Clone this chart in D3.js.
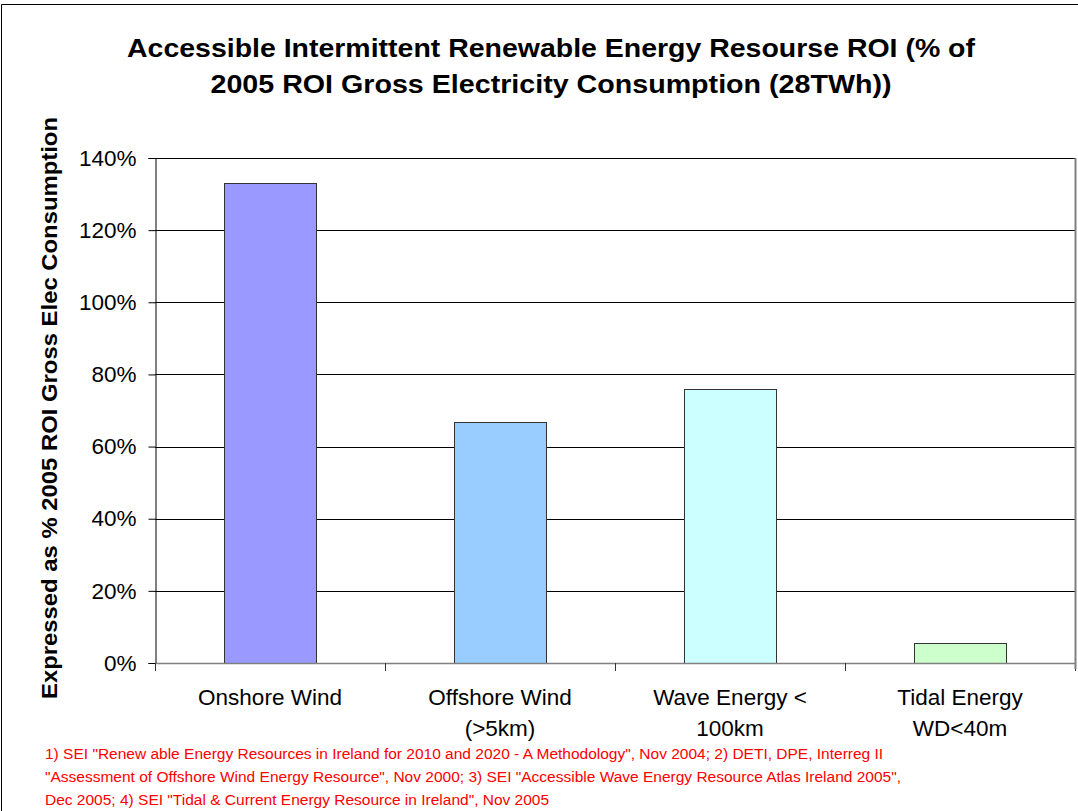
<!DOCTYPE html>
<html><head><meta charset="utf-8">
<script src="https://cdn.jsdelivr.net/npm/d3@7"></script>
<style>html,body{margin:0;padding:0;background:#fff;}svg{display:block;font-family:"Liberation Sans",Arial,sans-serif;}</style>
</head><body>
<svg id="c" width="1078" height="811"></svg>
<script>
const categories = [["Onshore Wind"], ["Offshore Wind", "(>5km)"], ["Wave Energy <", "100km"], ["Tidal Energy", "WD<40m"]];
const values = [1.331, 0.668, 0.76, 0.055];
const colors = ["#9999FF", "#99CCFF", "#CCFFFF", "#CCFFCC"];
const yTicks = [0, 0.2, 0.4, 0.6, 0.8, 1.0, 1.2, 1.4];
const titleLines = ["Accessible Intermittent Renewable Energy Resourse ROI (% of", "2005 ROI Gross Electricity Consumption (28TWh))"];
const yLabel = "Expressed as % 2005 ROI Gross Elec Consumption";
const notes = [
  "1) SEI \"Renew able Energy Resources in Ireland for 2010 and 2020 - A Methodology\", Nov 2004; 2) DETI, DPE, Interreg II",
  "\"Assessment of Offshore Wind Energy Resource\", Nov 2000; 3) SEI \"Accessible Wave Energy Resource Atlas Ireland 2005\",",
  "Dec 2005; 4) SEI \"Tidal & Current Energy Resource in Ireland\", Nov 2005"
];

const svg = d3.select("#c");
const L = 155, R = 1075, T = 158, B = 663;
const x = d3.scaleBand().domain(d3.range(categories.length)).range([L, R]).padding(0);
const y = d3.scaleLinear().domain([0, 1.4]).range([B, T]);

// frame
svg.append("path").attr("d", `M1.5,811 V4.5 H1078`).attr("fill", "none").attr("stroke", "#000").attr("stroke-width", 1);

// title
const titleW = [848, 681];
svg.append("g").selectAll("text").data(titleLines).join("text")
  .attr("x", 551).attr("y", (d, i) => 57 + i * 36)
  .attr("text-anchor", "middle").attr("font-weight", "bold").attr("font-size", 26)
  .attr("textLength", (d, i) => titleW[i]).attr("lengthAdjust", "spacingAndGlyphs")
  .attr("fill", "#000").text(d => d);

// gridlines
svg.append("g").selectAll("line").data(yTicks.filter(d => d > 0)).join("line")
  .attr("x1", L).attr("x2", R).attr("y1", d => Math.round(y(d)) + 0.5).attr("y2", d => Math.round(y(d)) + 0.5)
  .attr("stroke", "#000").attr("stroke-width", 1);

// bars
const bw = x.bandwidth() * 0.4;
svg.append("g").selectAll("rect").data(values).join("rect")
  .attr("x", (d, i) => Math.round(x(i) + (x.bandwidth() - bw) / 2) + 0.5)
  .attr("y", d => Math.round(y(d)) + 0.5)
  .attr("width", bw)
  .attr("height", d => B - Math.round(y(d)))
  .attr("fill", (d, i) => colors[i]).attr("stroke", "#333").attr("stroke-width", 1);

// y axis
const ya = svg.append("g").attr("transform", `translate(${L + 0.5},0)`)
  .call(d3.axisLeft(y).tickValues(yTicks).tickFormat(d3.format(".0%")).tickSize(7).tickPadding(12));
ya.select(".domain").attr("stroke", "#000");
ya.selectAll(".tick line").attr("stroke", "#000");
ya.selectAll(".tick text").attr("font-size", 22.5).attr("fill", "#000").attr("font-family", "Liberation Sans, Arial, sans-serif");

// x axis
svg.append("line").attr("x1", L).attr("x2", R).attr("y1", B + 0.5).attr("y2", B + 0.5).attr("stroke", "#808080").attr("stroke-width", 1.5);
svg.append("g").selectAll("line").data(d3.range(categories.length + 1)).join("line")
  .attr("x1", i => Math.round(L + i * x.step()) + 0.5).attr("x2", i => Math.round(L + i * x.step()) + 0.5)
  .attr("y1", B).attr("y2", B + 8).attr("stroke", "#333");
// right border
svg.append("line").attr("x1", R + 0.5).attr("x2", R + 0.5).attr("y1", T).attr("y2", B + 6).attr("stroke", "#808080").attr("stroke-width", 2);

const xl = svg.append("g").selectAll("text").data(categories).join("text")
  .attr("text-anchor", "middle").attr("font-size", 22.5).attr("fill", "#000");
xl.each(function(d, i) {
  d3.select(this).selectAll("tspan").data(d).join("tspan")
    .attr("x", x(i) + x.bandwidth() / 2).attr("y", (t, j) => 705 + j * 31).text(t => t);
});

// y label
svg.append("text").attr("transform", `translate(57,408) rotate(-90)`)
  .attr("text-anchor", "middle").attr("font-weight", "bold").attr("font-size", 21.5)
  .attr("textLength", 582).attr("lengthAdjust", "spacingAndGlyphs")
  .attr("fill", "#000").text(yLabel);

// notes
svg.append("g").selectAll("text").data(notes).join("text")
  .attr("x", 45).attr("y", (d, i) => 759 + i * 23)
  .attr("font-size", 15.5).attr("fill", "#FF0000").text(d => d);
</script>
</body></html>
